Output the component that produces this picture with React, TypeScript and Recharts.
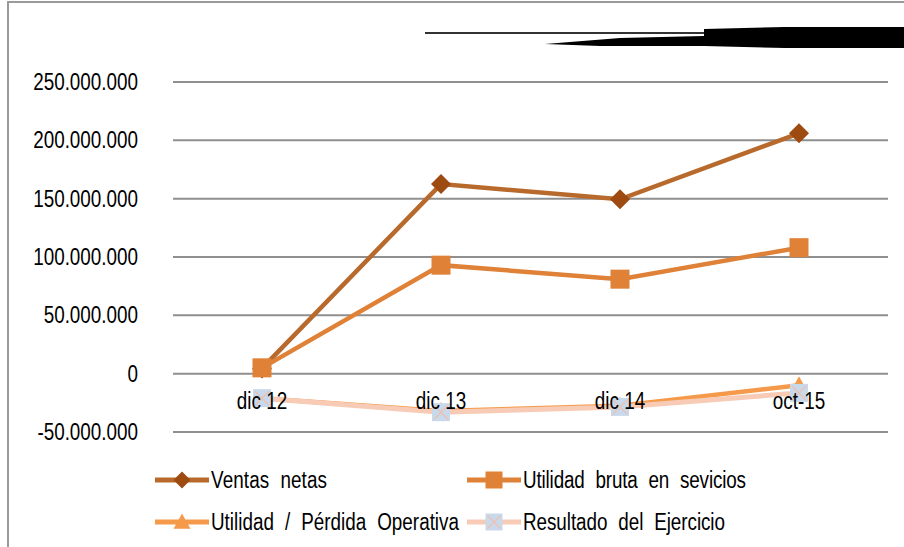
import { LineChart, Line, XAxis, YAxis, CartesianGrid } from 'recharts';

const categories = ['dic 12', 'dic 13', 'dic 14', 'oct-15'];
const ventasNetas = [4500000, 162500000, 149500000, 206000000];
const utilidadBruta = [5000000, 93000000, 81000000, 108000000];
const utilidadOperativa = [-21000000, -32000000, -27500000, -10000000];
const resultadoEjercicio = [-21000000, -33000000, -28500000, -16500000];
const yTicks = [-50000000, 0, 50000000, 100000000, 150000000, 200000000, 250000000];

const data = categories.map((cat, i) => ({
  cat,
  ventas: ventasNetas[i],
  bruta: utilidadBruta[i],
  operativa: utilidadOperativa[i],
  resultado: resultadoEjercicio[i],
}));

// condensed sans look: regular sans squeezed horizontally
const FONT = '"Liberation Sans", Arial, sans-serif';
const SQUEEZE = 0.82;

const C_VENTAS = '#B8692C';
const C_VENTAS_DOT = '#9E4B12';
const C_BRUTA = '#DF8137';
const C_OPER = '#F59A4A';
const C_RES = '#F7CBB6';
const C_RES_DOT = '#C9D9EC';

const fmt = (v: number) => {
  const s = Math.abs(v).toString().replace(/\B(?=(\d{3})+(?!\d))/g, '.');
  return v < 0 ? '-' + s : s;
};

const Diamond = ({ cx, cy, size = 10 }: any) => (
  <polygon
    points={`${cx},${cy - size} ${cx + size},${cy} ${cx},${cy + size} ${cx - size},${cy}`}
    fill={C_VENTAS_DOT}
  />
);

const Square = ({ cx, cy, size = 9.5 }: any) => (
  <rect x={cx - size} y={cy - size} width={size * 2} height={size * 2} fill={C_BRUTA} />
);

const Triangle = ({ cx, cy, size = 9 }: any) => (
  <polygon
    points={`${cx},${cy - size} ${cx + size},${cy + size * 0.8} ${cx - size},${cy + size * 0.8}`}
    fill={C_OPER}
  />
);

const CrossSquare = ({ cx, cy, size = 9 }: any) => (
  <g>
    <rect x={cx - size} y={cy - size} width={size * 2} height={size * 2} fill={C_RES_DOT} />
    <line x1={cx - size + 2} y1={cy - size + 2} x2={cx + size - 2} y2={cy + size - 2} stroke="#EBC2B3" strokeWidth={1.5} />
    <line x1={cx + size - 2} y1={cy - size + 2} x2={cx - size + 2} y2={cy + size - 2} stroke="#EBC2B3" strokeWidth={1.5} />
  </g>
);

const NarrowText = ({ x, y, anchor = 'start', children, textLength, wordSpacing }: any) => (
  <text
    transform={`translate(${x},${y}) scale(${SQUEEZE},1)`}
    textAnchor={anchor}
    fontSize={23}
    fontFamily={FONT}
    fill="#000"
    textLength={textLength}
    lengthAdjust={textLength ? 'spacing' : undefined}
    style={wordSpacing ? { wordSpacing } : undefined}
  >
    {children}
  </text>
);

const legendItems = [
  { name: 'Ventas netas', color: C_VENTAS, Marker: Diamond, x: 155, y: 480, w: 116 },
  { name: 'Utilidad bruta en sevicios', color: C_BRUTA, Marker: Square, x: 467, y: 480, w: 223 },
  { name: 'Utilidad / Pérdida Operativa', color: C_OPER, Marker: Triangle, x: 155, y: 522, w: 248 },
  { name: 'Resultado del Ejercicio', color: C_RES, Marker: CrossSquare, x: 467, y: 522, w: 202 },
];

const ChartLegend = () => (
  <svg width={904} height={547} style={{ position: 'absolute', left: 0, top: 0 }}>
    {legendItems.map(({ name, color, Marker, x, y, w }) => (
      <g key={name}>
        <line x1={x} y1={y} x2={x + 54} y2={y} stroke={color} strokeWidth={5} />
        <Marker cx={x + 27} cy={y} size={8.5} />
        <NarrowText x={x + 56} y={y + 8} textLength={w / SQUEEZE} wordSpacing={7}>
          {name}
        </NarrowText>
      </g>
    ))}
  </svg>
);

const CategoryTick = ({ x, y, payload }: any) => (
  <NarrowText x={x} y={y - 31} anchor="middle">
    {payload.value}
  </NarrowText>
);

const ValueTick = ({ x, y, payload }: any) => (
  <NarrowText x={x} y={y + 8} anchor="end">
    {fmt(payload.value)}
  </NarrowText>
);

const dotOf = (Comp: any) => (props: any) => <Comp key={`${props.dataKey}-${props.index}`} cx={props.cx} cy={props.cy} />;

export default function App() {
  return (
    <div style={{ position: 'absolute', left: 0, top: 0, width: 904, height: 547, background: '#fff', overflow: 'hidden' }}>
      <div
        style={{
          position: 'absolute',
          left: 7,
          top: 1,
          width: 1000,
          height: 700,
          borderLeft: '2px solid #9a9a9a',
          borderTop: '2px solid #9a9a9a',
        }}
      />
      <svg width={904} height={60} style={{ position: 'absolute', left: 0, top: 0 }}>
        <line x1={425} y1={33} x2={705} y2={33} stroke="#333" strokeWidth={2} />
        <polygon points="545,44 620,38 704,36 704,29 785,27 904,27 904,48 785,48 704,46 600,46" fill="#000" />
      </svg>
      <div style={{ position: 'absolute', left: 0, top: 0 }}>
        <LineChart
          width={904}
          height={547}
          data={data}
          margin={{ top: 82, right: 16, bottom: 85, left: 0 }}
        >
          <CartesianGrid vertical={false} stroke="#8f8f8f" strokeWidth={2} />
          <XAxis
            dataKey="cat"
            axisLine={false}
            tickLine={false}
            tick={<CategoryTick />}
            interval={0}
            height={30}
            padding={{ left: 89, right: 89 }}
          />
          <YAxis
            width={173}
            domain={[-50000000, 250000000]}
            ticks={yTicks}
            axisLine={false}
            tickLine={false}
            tickMargin={29}
            tick={<ValueTick />}
            interval={0}
          />
          <Line dataKey="ventas" stroke={C_VENTAS} strokeWidth={4.5} dot={dotOf(Diamond)} isAnimationActive={false} />
          <Line dataKey="bruta" stroke={C_BRUTA} strokeWidth={4.5} dot={dotOf(Square)} isAnimationActive={false} />
          <Line dataKey="operativa" stroke={C_OPER} strokeWidth={4.5} dot={dotOf(Triangle)} isAnimationActive={false} />
          <Line dataKey="resultado" stroke={C_RES} strokeWidth={5} dot={dotOf(CrossSquare)} isAnimationActive={false} />
        </LineChart>
      </div>
      <ChartLegend />
    </div>
  );
}
